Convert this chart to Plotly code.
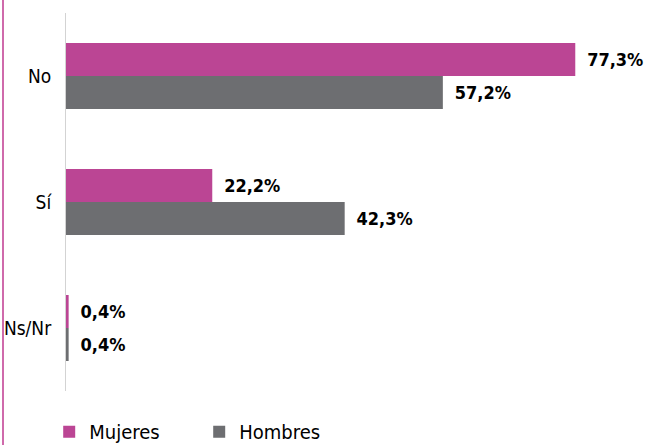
import plotly.graph_objects as go

categories = ["No", "Sí", "Ns/Nr"]
mujeres = [77.3, 22.2, 0.4]
hombres = [57.2, 42.3, 0.4]
series_names = ["Mujeres", "Hombres"]

FONT = "DejaVu Sans Condensed, Liberation Sans Narrow, Arial Narrow, sans-serif"
C_MUJ = "#bb4594"
C_HOM = "#6d6e71"

def fmt(v):
    return "\u00a0\u2009" + f"{v:.1f}".replace(".", ",") + "%"

fig = go.Figure()
for name, vals, col in [(series_names[0], mujeres, C_MUJ), (series_names[1], hombres, C_HOM)]:
    fig.add_trace(go.Bar(
        y=categories, x=vals, name=name, orientation="h",
        marker=dict(color=col, line=dict(width=0)),
        text=[fmt(v) for v in vals], textposition="outside",
        textfont=dict(family=FONT, size=18, color="#000000", weight="bold"),
        cliponaxis=False, hoverinfo="skip",
    ))

fig.update_layout(
    width=645, height=445,
    margin=dict(l=66, r=19, t=13, b=54, autoexpand=False),
    paper_bgcolor="white", plot_bgcolor="white",
    barmode="group", bargap=0.476, bargroupgap=0,
    font=dict(family=FONT, size=20, color="#000000"),
    xaxis=dict(range=[0, 85], visible=False, showgrid=False, zeroline=False, automargin=False),
    yaxis=dict(categoryorder="array", categoryarray=categories, autorange="reversed",
               showline=True, linecolor="#d3d3d3", linewidth=1, showgrid=False,
               ticks="", ticklabelstandoff=10, automargin=False,
               tickfont=dict(family=FONT, size=19, color="#000000")),
    legend=dict(orientation="h", x=-0.03, y=-0.056, xanchor="left", yanchor="top",
                font=dict(family=FONT, size=20, color="#000000"),
                entrywidth=105, entrywidthmode="pixels", itemsizing="constant"),
    shapes=[dict(type="line", xref="paper", yref="paper", x0=-63/560, x1=-63/560,
                 y0=-54/378, y1=1 + 13/378, line=dict(color="#cf6aab", width=2))],
)

fig.write_html("out.html", config={"displayModeBar": False},
               post_script="document.body.style.margin='0';document.body.style.overflow='hidden';")
